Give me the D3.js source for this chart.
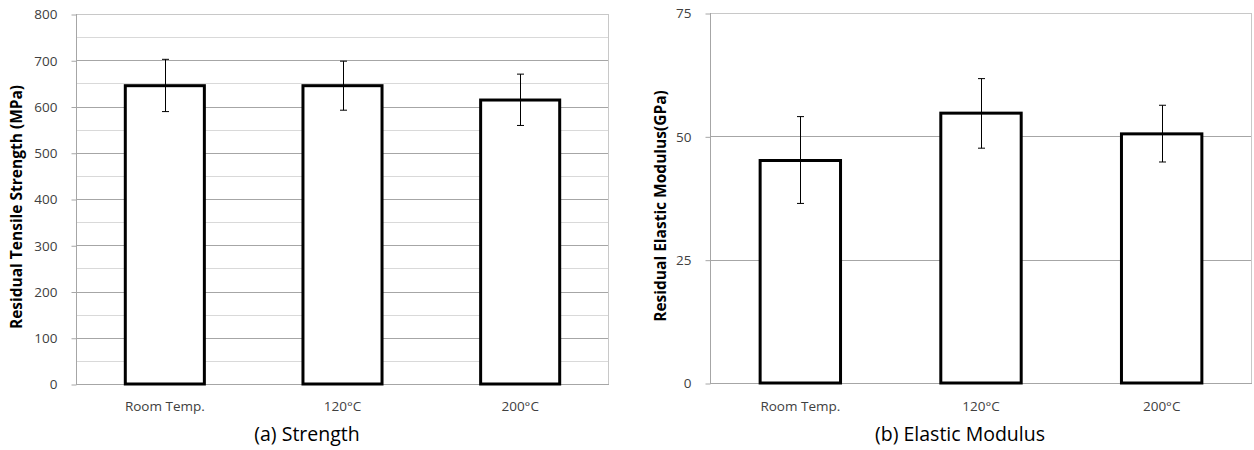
<!DOCTYPE html>
<html>
<head>
<meta charset="utf-8">
<script src="https://cdn.jsdelivr.net/npm/d3@7"></script>
<style>
  body { margin: 0; background: #fff; }
  text { font-family: "Open Sans", "Noto Sans", sans-serif; }
</style>
</head>
<body>
<svg id="chart" width="1254" height="450"></svg>
<script>
// categories shared by both panels
const categories = ['Room Temp.', '120°C', '200°C'];

// (a) residual tensile strength, MPa
const strengthMean = [645, 645, 614];
const strengthLow = [589, 592, 559];
const strengthHigh = [702, 698, 670];
const strengthTicks = [0, 100, 200, 300, 400, 500, 600, 700, 800];
const strengthMinor = [50, 150, 250, 350, 450, 550, 650, 750];

// (b) residual elastic modulus, GPa
const modulusMean = [45.1, 54.7, 50.5];
const modulusLow = [36.4, 47.6, 44.8];
const modulusHigh = [54.0, 61.7, 56.3];
const modulusTicks = [0, 25, 50, 75];

const svg = d3.select('#chart');

function drawPanel(opt){
    const g = svg.append('g');
    let x = d3.scaleBand()
        .domain(categories)
        .range([opt.left, opt.right])
        .paddingInner(0.555)
        .paddingOuter(0.2775);
    let y = d3.scaleLinear()
        .domain([0, opt.max])
        .range([opt.bottom, opt.top]);

    //minor grid first, lighter
    g.selectAll('.minor').data(opt.minor).enter().append('line')
        .attr('x1', opt.left).attr('x2', opt.right)
        .attr('y1', d => Math.round(y(d)) + 0.5)
        .attr('y2', d => Math.round(y(d)) + 0.5)
        .attr('stroke', '#d9d9d9');
    g.selectAll('.major').data(opt.ticks).enter().append('line')
        .attr('x1', opt.left).attr('x2', opt.right)
        .attr('y1', d => Math.round(y(d)) + 0.5)
        .attr('y2', d => Math.round(y(d)) + 0.5)
        .attr('stroke', d => d === opt.max ? '#c8c8c8' : '#a6a6a6');

    //frame: left axis + right border
    g.append('line')
        .attr('x1', opt.left + 0.5).attr('x2', opt.left + 0.5)
        .attr('y1', y(opt.max)).attr('y2', y(0))
        .attr('stroke', '#a6a6a6');
    g.append('line')
        .attr('x1', opt.right - 0.5).attr('x2', opt.right - 0.5)
        .attr('y1', y(opt.max)).attr('y2', y(0))
        .attr('stroke', '#c8c8c8');

    //y axis ticks and labels
    let yAxis = d3.axisLeft(y).tickValues(opt.ticks).tickSize(5).tickPadding(14);
    let ax = g.append('g')
        .attr('transform', `translate(${opt.left + 0.5},0.5)`)
        .call(yAxis);
    ax.select('.domain').remove();
    ax.selectAll('.tick line').attr('stroke', '#a6a6a6');
    ax.selectAll('.tick text')
        .attr('font-size', 13.5)
        .attr('fill', '#404040');

    //bars
    g.selectAll('.bar').data(opt.mean).enter().append('rect')
        .attr('x', (d, i) => x(categories[i]))
        .attr('y', d => y(d))
        .attr('width', x.bandwidth())
        .attr('height', d => y(0) - y(d))
        .attr('fill', '#fff')
        .attr('stroke', '#000')
        .attr('stroke-width', 3);

    //error bars
    let cap = 3.5;
    opt.mean.forEach((d, i) => {
        let cx = Math.round(x(categories[i]) + x.bandwidth() / 2) + 0.5;
        g.append('line')
            .attr('x1', cx).attr('x2', cx)
            .attr('y1', y(opt.high[i])).attr('y2', y(opt.low[i]))
            .attr('stroke', '#000').attr('stroke-width', 1);
        [opt.high[i], opt.low[i]].forEach(v => {
            g.append('line')
                .attr('x1', cx - cap).attr('x2', cx + cap)
                .attr('y1', y(v)).attr('y2', y(v))
                .attr('stroke', '#000').attr('stroke-width', 1);
        });
    });

    //category labels
    g.selectAll('.cat').data(categories).enter().append('text')
        .attr('x', d => x(d) + x.bandwidth() / 2)
        .attr('y', 411)
        .attr('text-anchor', 'middle')
        .attr('font-size', 13.5)
        .attr('fill', '#404040')
        .text(d => d);

    //y title
    g.append('text')
        .attr('transform', `translate(${opt.titleX},${(opt.top + opt.bottom) / 2 + 8}) rotate(-90)`)
        .attr('text-anchor', 'middle')
        .attr('dy', '0.35em')
        .attr('font-size', 15.5)
        .attr('font-weight', 'bold')
        .attr('fill', '#000')
        .text(opt.title);

    //caption
    g.append('text')
        .attr('x', opt.captionX)
        .attr('y', 441)
        .attr('text-anchor', 'middle')
        .attr('font-size', 19.5)
        .attr('fill', '#000')
        .text(opt.caption);
}

drawPanel({
    left: 76, right: 609, top: 14, bottom: 384, max: 800,
    mean: strengthMean, low: strengthLow, high: strengthHigh,
    ticks: strengthTicks, minor: strengthMinor,
    title: 'Residual Tensile Strength (MPa)', titleX: 17,
    caption: '(a) Strength', captionX: 307
});

drawPanel({
    left: 710, right: 1252, top: 13, bottom: 383, max: 75,
    mean: modulusMean, low: modulusLow, high: modulusHigh,
    ticks: modulusTicks, minor: [],
    title: 'Residual Elastic Modulus(GPa)', titleX: 661,
    caption: '(b) Elastic Modulus', captionX: 960
});
</script>
</body>
</html>
